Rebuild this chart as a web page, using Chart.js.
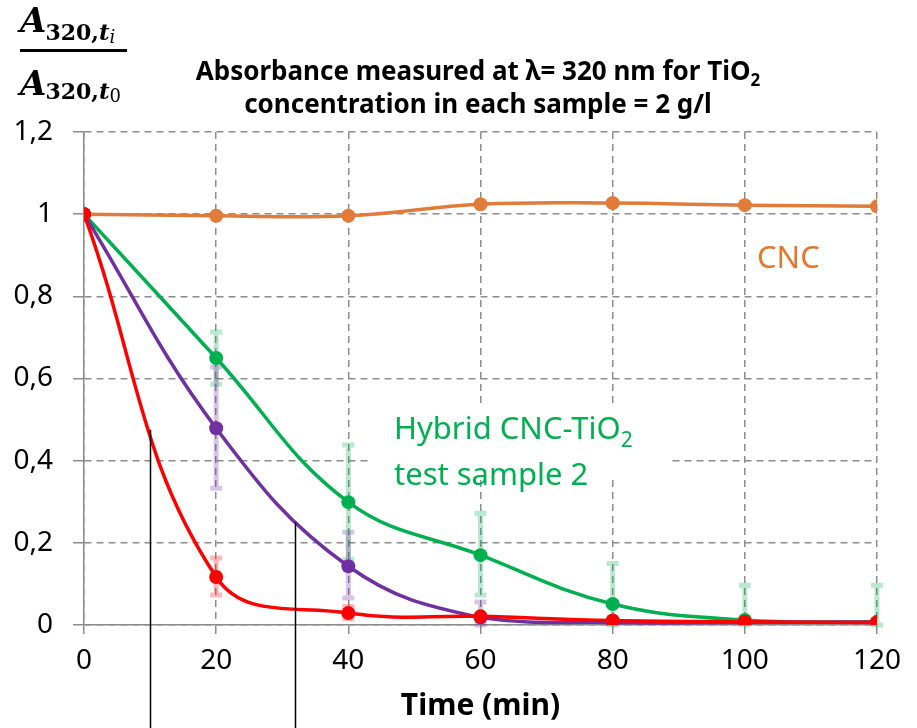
<!DOCTYPE html>
<html>
<head>
<meta charset="utf-8">
<script src="https://cdn.jsdelivr.net/npm/chart.js@4"></script>
<style>
  html, body { margin: 0; padding: 0; background: #fff; }
  #wrap { width: 917px; height: 728px; position: relative; }
</style>
</head>
<body>
<div id="wrap"><canvas id="chart" width="917" height="728"></canvas></div>
<script>
const times = [0, 20, 40, 60, 80, 100, 120];
const cnc = [1, 0.996, 0.996, 1.024, 1.027, 1.022, 1.019];
const hybrid2 = [1, 0.65, 0.299, 0.17, 0.051, 0.012, 0.007];
const purpleSeries = [1, 0.479, 0.143, 0.018, 0.006, 0.006, 0.007];
const redSeries = [1, 0.117, 0.029, 0.021, 0.011, 0.008, 0.006];

// error bar ranges [low, high] per time point (null = none)
const hybrid2Err = [null, [0.586, 0.713], [0.16, 0.438], [0.073, 0.272], [0.0, 0.15], [0.0, 0.097], [0.0, 0.097]];
const purpleErr = [null, [0.333, 0.628], [0.066, 0.226], [0.0, 0.056], null, null, null];
const redErr = [null, [0.073, 0.163], [0.015, 0.045], null, null, null, null];

const yTicks = [0, 0.2, 0.4, 0.6, 0.8, 1, 1.2];
// vertical marker lines [time, top value]
const markers = [[10, 0.475], [32, 0.25]];

const FONT = '"Noto Sans", sans-serif';
const SERIF = "'DejaVu Serif', serif";

const pts = (ys) => times.map((t, i) => ({ x: t, y: ys[i] }));

const errorBars = {
  id: "errorBars",
  beforeDatasetsDraw(chart) {
    const { ctx, scales: { x, y } } = chart;
    const sets = [
      [hybrid2Err, "rgba(0,176,80,0.28)"],
      [purpleErr, "rgba(112,48,160,0.28)"],
      [redErr, "rgba(255,0,0,0.28)"],
    ];
    ctx.save();
    // white box behind the hybrid label
    ctx.fillStyle = "#fff";
    ctx.fillRect(372, 404, 296, 76);
    sets.forEach(([errs, col]) => {
      ctx.strokeStyle = col;
      ctx.lineWidth = 5;
      errs.forEach((e, i) => {
        if (!e) return;
        const px = x.getPixelForValue(times[i]);
        const y1 = y.getPixelForValue(e[0]);
        const y2 = y.getPixelForValue(e[1]);
        ctx.beginPath();
        ctx.moveTo(px, y1); ctx.lineTo(px, y2);
        ctx.moveTo(px - 6, y1); ctx.lineTo(px + 6, y1);
        ctx.moveTo(px - 6, y2); ctx.lineTo(px + 6, y2);
        ctx.stroke();
      });
    });
    ctx.restore();
  },
};

const decorations = {
  id: "decorations",
  afterDraw(chart) {
    const { ctx, scales: { x, y } } = chart;
    ctx.save();
    // marker lines
    ctx.strokeStyle = "#000";
    ctx.lineWidth = 1.5;
    markers.forEach(([t, v]) => {
      const px = Math.round(x.getPixelForValue(t)) + 0.5;
      ctx.beginPath();
      ctx.moveTo(px, chart.height);
      ctx.lineTo(px, y.getPixelForValue(v));
      ctx.stroke();
    });

    // title with subscript
    ctx.fillStyle = "#000";
    ctx.textBaseline = "alphabetic";
    const l1 = "Absorbance measured at \u03bb= 320 nm for TiO";
    ctx.font = "bold 26px " + FONT;
    const w1 = ctx.measureText(l1).width;
    ctx.font = "bold 17px " + FONT;
    const ws = ctx.measureText("2").width;
    const sx = 478 - (w1 + ws) / 2;
    ctx.font = "bold 26px " + FONT;
    ctx.textAlign = "left";
    ctx.fillText(l1, sx, 80);
    ctx.font = "bold 17px " + FONT;
    ctx.fillText("2", sx + w1, 86);
    ctx.font = "bold 26px " + FONT;
    ctx.textAlign = "center";
    ctx.fillText("concentration in each sample = 2 g/l", 478, 113);

    // y axis fraction label
    ctx.textAlign = "left";
    const drawA = (base, subDy) => {
      ctx.font = "italic bold 34px " + SERIF;
      ctx.fillText("A", 20, base);
      let cx = 20 + ctx.measureText("A").width - 1;
      ctx.font = "bold 22px " + SERIF;
      ctx.fillText("320,", cx, base + subDy);
      cx += ctx.measureText("320,").width;
      ctx.font = "italic bold 23px " + SERIF;
      ctx.fillText("t", cx, base + subDy);
      return cx + ctx.measureText("t").width;
    };
    let ex = drawA(32, 8);
    ctx.font = "italic 18px " + SERIF;
    ctx.fillText("i", ex, 43);
    ex = drawA(95, 4);
    ctx.font = "18px " + SERIF;
    ctx.fillText("0", ex, 102);
    ctx.fillRect(20, 49, 107, 3);

    // series labels
    ctx.font = "31px " + FONT;
    ctx.fillStyle = "#E6762A";
    ctx.fillText("CNC", 757, 268);
    ctx.fillStyle = "#00B050";
    const h1 = "Hybrid CNC-TiO";
    ctx.fillText(h1, 394, 439);
    const hw = ctx.measureText(h1).width;
    ctx.font = "21px " + FONT;
    ctx.fillText("2", 394 + hw, 447);
    ctx.font = "31px " + FONT;
    ctx.fillText("test sample 2", 394, 485);
    ctx.restore();
  },
};

const line = (data, color, order) => ({
  data: pts(data),
  borderColor: color,
  backgroundColor: color,
  borderWidth: 3.5,
  pointRadius: 7,
  pointHoverRadius: 7,
  pointBorderWidth: 0,
  tension: 0.4,
  order,
});

new Chart(document.getElementById("chart"), {
  type: "line",
  data: {
    datasets: [
      line(redSeries, "#FF0000", 0),
      line(purpleSeries, "#7030A0", 1),
      line(hybrid2, "#00B050", 2),
      line(cnc, "#E07B39", 3),
    ],
  },
  options: {
    responsive: false,
    animation: false,
    events: [],
    layout: { padding: { left: 0, right: 40, top: 132, bottom: 0 } },
    plugins: { legend: { display: false }, tooltip: { enabled: false } },
    scales: {
      x: {
        type: "linear",
        min: 0,
        max: 120,
        afterFit: (s) => { s.height = 103; },
        afterBuildTicks: (s) => { s.ticks = times.map((v) => ({ value: v })); },
        grid: { color: "#8c8c8c", lineWidth: 1.5, tickLength: 9 },
        border: { color: "#8c8c8c", width: 1.5, dash: [7, 5] },
        ticks: { color: "#000", font: { family: FONT, size: 28 }, padding: 10, maxRotation: 0 },
        title: { display: true, text: "Time (min)", color: "#000", font: { family: FONT, size: 30, weight: "bold" }, padding: { top: 0 } },
      },
      y: {
        min: 0,
        max: 1.2,
        afterFit: (s) => { s.width = 84; },
        afterBuildTicks: (s) => { s.ticks = yTicks.map((v) => ({ value: v })); },
        grid: { color: "#8c8c8c", lineWidth: 1.5, tickLength: 11 },
        border: { color: "#8c8c8c", width: 1.5, dash: [7, 5] },
        ticks: {
          color: "#000",
          font: { family: FONT, size: 28 },
          padding: 20,
          callback: (v) => String(v).replace(".", ","),
        },
      },
    },
  },
  plugins: [errorBars, decorations],
});
</script>
</body>
</html>
